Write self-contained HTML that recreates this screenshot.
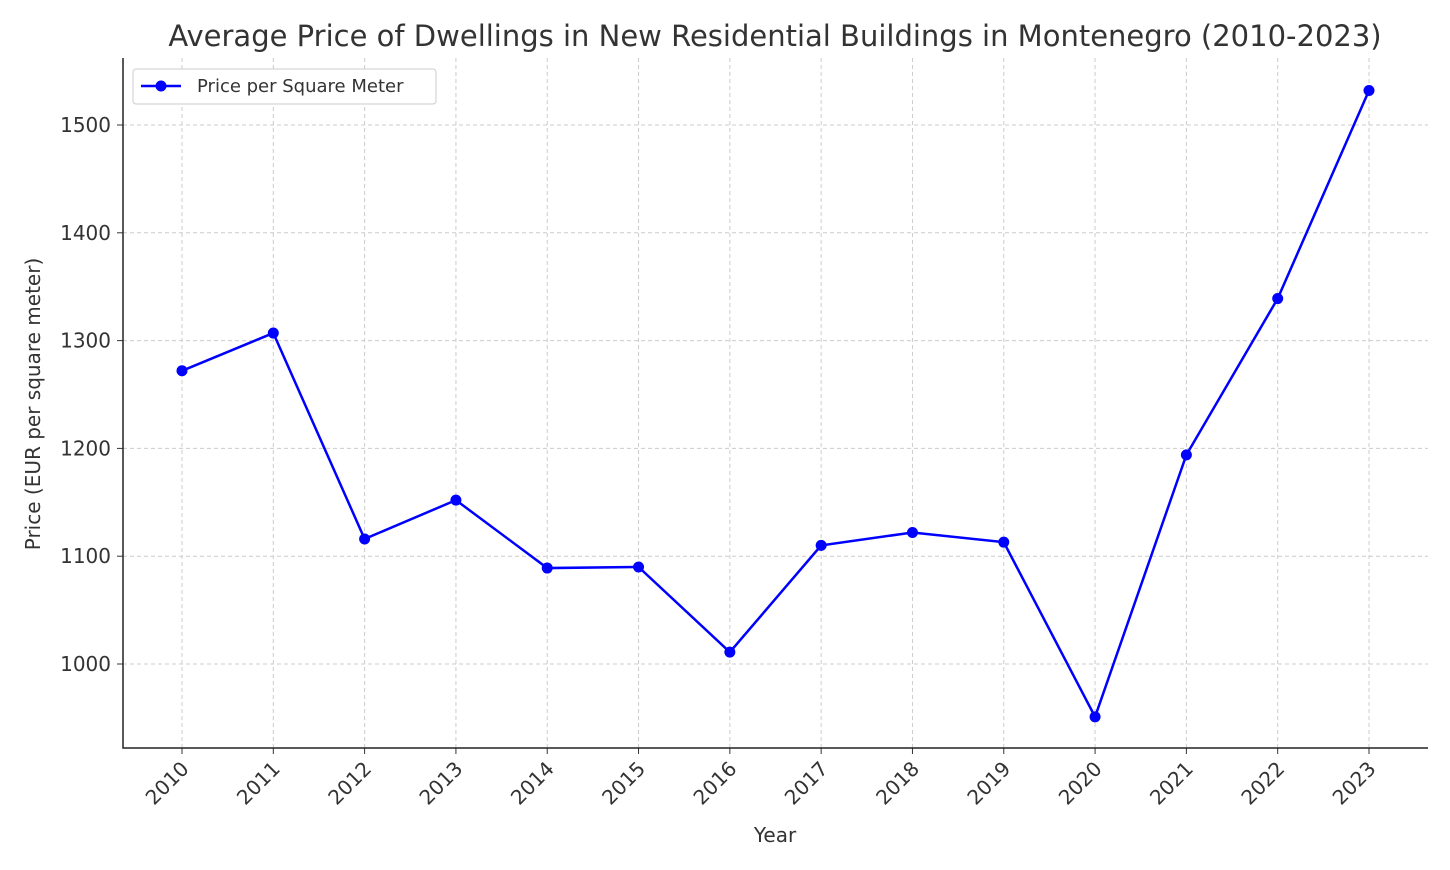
<!DOCTYPE html>
<html><head><meta charset="utf-8"><style>
body{margin:0;background:#fff;}
svg{display:block;font-family:"DejaVu Sans","Liberation Sans",sans-serif;}
</style></head><body>
<svg id="chart" width="1450" height="870" viewBox="0 0 1450 870">
<text x="775" y="46" text-anchor="middle" font-size="29" fill="#333">Average Price of Dwellings in New Residential Buildings in Montenegro (2010-2023)</text>
<g id="grid"></g><g id="axes"></g><g id="series"></g>
<text x="775" y="842" text-anchor="middle" font-size="20" fill="#333">Year</text>
<text transform="translate(40,404) rotate(-90)" text-anchor="middle" font-size="20" fill="#333">Price (EUR per square meter)</text>
<g>
<rect x="133" y="69" width="303" height="35" fill="#fff" stroke="#ccc" rx="3"/>
<line x1="141" y1="86" x2="181" y2="86" stroke="#0000ff" stroke-width="2.5"/>
<circle cx="161" cy="86" r="5.5" fill="#0000ff"/>
<text x="197" y="92" font-size="18" fill="#333">Price per Square Meter</text>
</g>
</svg>
<script>
const years=[2010,2011,2012,2013,2014,2015,2016,2017,2018,2019,2020,2021,2022,2023];
const prices=[1272,1307,1116,1152,1089,1090,1011,1110,1122,1113,951,1194,1339,1532];
const yTicks=[1000,1100,1200,1300,1400,1500];
const NS="http://www.w3.org/2000/svg";
const L=123,R=1428,T=58,B=748;
const x0=182,x1=1369;
function xs(i){return x0+(x1-x0)*i/(years.length-1);}
function ys(v){return 664-(v-1000)*1.078;}
function mk(tag,attrs,parent){const e=document.createElementNS(NS,tag);for(const k in attrs)e.setAttribute(k,attrs[k]);parent.appendChild(e);return e;}
const grid=document.getElementById('grid'),axes=document.getElementById('axes'),ser=document.getElementById('series');
years.forEach((yr,i)=>{
  const gl=mk('line',{x1:xs(i),x2:xs(i),y1:T,y2:B,stroke:'#ccc','stroke-dasharray':'4,3','stroke-width':1},grid);
  
  
  mk('line',{x1:xs(i),x2:xs(i),y1:B,y2:B+6,stroke:'#333'},axes);
  const t=mk('text',{transform:`translate(${xs(i)+8},${B+22}) rotate(-45)`,'text-anchor':'end','font-size':20,fill:'#333'},axes);
  t.textContent=yr;
  
  
});
yTicks.forEach(v=>{
  const gl=mk('line',{x1:L,x2:R,y1:ys(v),y2:ys(v),stroke:'#ccc','stroke-dasharray':'4,3','stroke-width':1},grid);
  
  
  mk('line',{x1:L-6,x2:L,y1:ys(v),y2:ys(v),stroke:'#333'},axes);
  const t=mk('text',{x:L-12,y:ys(v)+7,'text-anchor':'end','font-size':20,fill:'#333'},axes);
  t.textContent=v;
  
  
});
const ax=mk('path',{d:`M${L},${T} V${B} H${R}`,fill:'none',stroke:'#222','stroke-width':1.5},axes);


const line=mk('polyline',{points:prices.map((v,i)=>xs(i)+','+ys(v)).join(' '),fill:'none',stroke:'#0000ff','stroke-width':2.5},ser);


prices.forEach((v,i)=>{
  const c=mk('circle',{cx:xs(i),cy:ys(v),r:5.5,fill:'#0000ff'},ser);
  
  
});
</script>
</body></html>
